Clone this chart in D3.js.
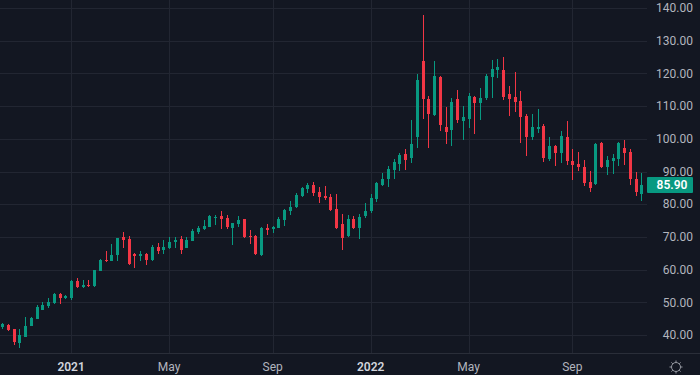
<!doctype html>
<meta charset="utf-8">
<title>Weekly candles</title>
<style>
html, body {
  margin: 0;
  background: #131722;
}
svg text {
  font-family: "Trebuchet MS", Roboto, Ubuntu, sans-serif;
  font-size: 12px;
}
</style>
<script src="https://cdn.jsdelivr.net/npm/d3@7"></script>
<div id="chart"></div>
<script>
// weekly bars, first one is the week of 12 Oct 2020
var firstWeek = new Date(2020, 9, 12);

var open = [42.54, 43.15, 41.83, 37.46, 39.39, 42.75, 44.89, 47.65, 48.87, 49.69,
  52.54, 51.31, 51.22, 56.51, 54.68, 55.29, 54.98, 59.66, 62.94, 62.63,
  64.46, 69.97, 69.36, 64.77, 64.16, 64.77, 62.94, 66.91, 65.99, 66.6,
  68.44, 69.36, 66.7, 68.75, 71.5, 72.41, 73.03, 75.78, 76.39, 75.78,
  72.72, 73.94, 75.47, 70.27, 70.27, 64.46, 72.72, 72.41, 72.72, 75.17,
  77.92, 79.14, 82.51, 84.65, 85.87, 83.73, 82.51, 82.2, 78.53, 73.94,
  70.27, 75.47, 72.72, 76.39, 77.92, 81.59, 85.87, 87.7, 90.46, 92.29,
  95.35, 94.13, 100.55, 123.79, 112.17, 107.28, 118.9, 103.61, 102.69, 112.17,
  105.44, 106.05, 112.78, 110.95, 112.47, 118.9, 121.04, 121.04, 113.7, 112.78,
  111.56, 106.97, 100.55, 103.0, 103.91, 93.82, 97.8, 95.66, 100.55, 93.21,
  92.29, 91.37, 86.79, 86.18, 98.71, 91.37, 93.21, 93.82, 97.18, 95.96,
  87.7, 83.12];

var high = [43.76, 43.4, 41.9, 41.74, 45.6, 45.6, 49.17, 50.09, 51.31, 52.8,
  52.7, 52.32, 56.7, 57.43, 56.82, 56.82, 60.0, 63.1, 65.69, 67.83,
  69.8, 71.5, 70.27, 65.08, 65.69, 65.08, 67.52, 68.13, 69.05, 69.97,
  69.97, 70.27, 69.97, 72.41, 73.33, 75.17, 76.6, 76.7, 77.92, 76.7,
  74.4, 76.39, 75.6, 72.11, 70.58, 72.9, 73.94, 73.33, 76.08, 78.4,
  80.98, 83.42, 85.26, 86.48, 86.79, 85.26, 85.56, 83.12, 83.12, 77.0,
  76.7, 76.39, 77.0, 80.37, 83.12, 86.7, 89.54, 91.68, 93.82, 95.66,
  96.88, 105.75, 119.81, 137.86, 113.09, 123.79, 119.1, 109.72, 112.47, 114.92,
  110.03, 114.0, 113.09, 115.53, 119.81, 124.1, 124.4, 125.01, 116.14, 120.43,
  114.62, 107.58, 107.58, 109.11, 104.52, 100.55, 98.1, 102.38, 105.44, 96.88,
  95.96, 93.52, 90.15, 98.6, 98.9, 94.74, 95.35, 98.9, 99.63, 96.88,
  89.85, 89.54];

var low = [41.74, 41.2, 36.94, 36.12, 39.3, 42.6, 44.8, 47.5, 48.26, 49.5,
  49.48, 50.92, 50.7, 54.5, 54.5, 54.8, 54.68, 59.5, 62.32, 62.5,
  62.63, 66.6, 61.5, 60.49, 62.63, 61.41, 62.63, 64.77, 64.77, 66.4,
  66.6, 64.77, 66.5, 68.6, 70.89, 72.11, 72.9, 73.64, 72.41, 72.41,
  67.52, 73.03, 69.8, 67.83, 64.6, 64.3, 70.58, 71.19, 72.6, 73.33,
  76.7, 78.84, 82.3, 83.42, 82.51, 80.37, 81.28, 78.0, 72.41, 65.99,
  70.0, 72.5, 69.36, 75.78, 77.31, 80.67, 85.56, 85.26, 87.7, 90.15,
  90.46, 92.6, 97.18, 106.05, 97.18, 107.0, 102.38, 98.41, 97.8, 104.83,
  99.63, 103.3, 101.47, 105.75, 111.86, 112.47, 118.59, 111.86, 106.97, 108.19,
  98.71, 94.74, 99.63, 101.77, 92.9, 93.21, 91.68, 92.6, 91.99, 87.4,
  90.15, 85.56, 83.73, 86.0, 91.2, 88.93, 89.23, 91.68, 91.99, 85.87,
  82.51, 80.98];

var close = [43.27, 41.53, 37.86, 40.0, 42.75, 45.11, 48.65, 49.17, 50.09, 52.54,
  51.31, 51.93, 56.51, 54.68, 55.29, 54.98, 59.88, 62.94, 62.54, 64.46,
  69.66, 69.05, 61.71, 64.16, 64.77, 62.94, 66.91, 65.69, 66.91, 68.44,
  69.05, 65.99, 69.05, 71.8, 72.72, 73.33, 76.39, 76.08, 75.47, 73.03,
  74.25, 75.17, 69.97, 69.97, 64.77, 72.72, 72.11, 73.03, 75.47, 78.23,
  79.14, 82.81, 84.95, 85.87, 83.42, 82.2, 81.89, 78.23, 72.72, 69.66,
  75.47, 72.72, 76.08, 77.92, 81.89, 86.48, 87.7, 90.76, 92.9, 95.04,
  93.52, 98.41, 117.98, 112.17, 107.58, 119.2, 104.22, 102.08, 111.25, 105.75,
  106.66, 113.09, 110.95, 112.47, 119.2, 121.34, 121.95, 112.78, 112.17, 111.25,
  106.66, 100.55, 103.61, 103.61, 94.13, 97.8, 95.66, 100.85, 93.21, 91.99,
  91.37, 86.48, 84.95, 98.41, 91.37, 93.52, 94.13, 98.71, 95.66, 87.7,
  83.73, 85.9];

var priceTicks = [40, 50, 60, 70, 80, 90, 100, 110, 120, 130, 140];
var tickMonths = [0, 4, 8];   // Jan shows the year, May / Sep show the month
var lastPrice = 85.90;

var width = 700, height = 375;
var paneRight = 647, paneBottom = 353;

var up = "#089981", down = "#f23645";
var gridColor = "#222632";

var dates = open.map(function(d, i) { return d3.timeWeek.offset(firstWeek, i); });

var data = open.map(function(o, i) {
  return { date: dates[i], i: i, o: o, h: high[i], l: low[i], c: close[i] };
});

var x = d3.scaleLinear().domain([0, data.length - 1]).range([2, 641.4]);
var y = d3.scaleLinear().domain([40, 140]).range([335, 8]);

var svg = d3.select("#chart").append("svg")
  .attr("width", width)
  .attr("height", height);

svg.append("rect").attr("width", width).attr("height", height).attr("fill", "#131722");

// first bar of Jan / May / Sep
var timeTicks = data.filter(function(d, i) {
  if (i == 0) return false;
  return d.date.getMonth() != dates[i - 1].getMonth() && tickMonths.indexOf(d.date.getMonth()) >= 0;
});

// grid
svg.append("g").selectAll("line")
  .data(priceTicks)
  .join("line")
  .attr("x1", 0).attr("x2", paneRight)
  .attr("y1", d => Math.round(y(d)) + 0.5)
  .attr("y2", d => Math.round(y(d)) + 0.5)
  .attr("stroke", gridColor);

svg.append("g").selectAll("line")
  .data(timeTicks)
  .join("line")
  .attr("x1", d => Math.round(x(d.i)) + 0.5)
  .attr("x2", d => Math.round(x(d.i)) + 0.5)
  .attr("y1", 0).attr("y2", paneBottom)
  .attr("stroke", gridColor);

// candles
var candles = svg.append("g").selectAll("g")
  .data(data)
  .join("g")
  .attr("fill", d => d.c >= d.o ? up : down);

candles.append("rect")
  .attr("x", d => Math.round(x(d.i)))
  .attr("width", 1)
  .attr("y", d => Math.round(y(d.h)))
  .attr("height", d => Math.max(1, Math.round(y(d.l)) - Math.round(y(d.h))));

candles.append("rect")
  .attr("x", d => Math.round(x(d.i)) - 1)
  .attr("width", 3)
  .attr("y", d => Math.round(y(Math.max(d.o, d.c))))
  .attr("height", d => Math.max(1, Math.round(y(Math.min(d.o, d.c))) - Math.round(y(Math.max(d.o, d.c)))));

// price scale
svg.append("g").selectAll("text")
  .data(priceTicks)
  .join("text")
  .attr("x", 693)
  .attr("y", d => y(d))
  .attr("dy", "0.35em")
  .attr("text-anchor", "end")
  .attr("fill", "#b2b5be")
  .text(d => d.toFixed(2));

// last price tag
var tag = svg.append("g");
tag.append("rect")
  .attr("x", paneRight)
  .attr("y", Math.round(y(lastPrice)) - 8)
  .attr("width", 46)
  .attr("height", 16)
  .attr("rx", 1)
  .attr("fill", up);
tag.append("text")
  .attr("x", 672)
  .attr("y", y(lastPrice))
  .attr("dy", "0.36em")
  .attr("text-anchor", "middle")
  .attr("fill", "#ffffff")
  .attr("font-weight", 600)
  .text(lastPrice.toFixed(2));

// time scale
svg.append("line")
  .attr("x1", 0).attr("x2", width)
  .attr("y1", paneBottom + 0.5).attr("y2", paneBottom + 0.5)
  .attr("stroke", "#2a2e39");

var fmtMonth = d3.timeFormat("%b"), fmtYear = d3.timeFormat("%Y");
svg.append("g").selectAll("text")
  .data(timeTicks)
  .join("text")
  .attr("x", d => x(d.i))
  .attr("y", 371)
  .attr("text-anchor", "middle")
  .attr("fill", d => d.date.getMonth() == 0 ? "#d1d4dc" : "#b2b5be")
  .attr("font-weight", d => d.date.getMonth() == 0 ? 600 : 400)
  .text(d => d.date.getMonth() == 0 ? fmtYear(d.date) : fmtMonth(d.date));

// settings icon, bottom right
var gear = svg.append("g")
  .attr("transform", "translate(676,367)")
  .attr("stroke", "#9598a1")
  .attr("fill", "none");
gear.append("circle").attr("r", 4.5);
gear.selectAll("line")
  .data(d3.range(8))
  .join("line")
  .attr("x1", d => Math.cos(d * Math.PI / 4) * 4.5)
  .attr("y1", d => Math.sin(d * Math.PI / 4) * 4.5)
  .attr("x2", d => Math.cos(d * Math.PI / 4) * 6.5)
  .attr("y2", d => Math.sin(d * Math.PI / 4) * 6.5);
</script>
